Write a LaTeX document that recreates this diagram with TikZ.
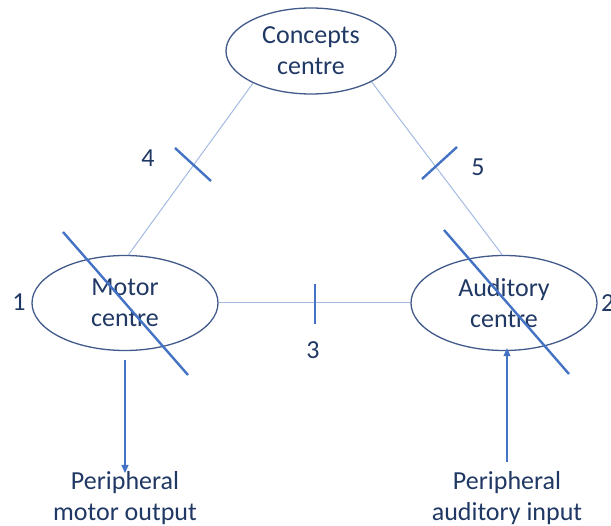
\documentclass[tikz,border=0pt]{standalone}
\usepackage{fontspec}
\setmainfont{Carlito}
\usetikzlibrary{arrows.meta,shapes.geometric}
\definecolor{edgeblue}{HTML}{41598B}
\definecolor{txtblue}{HTML}{203864}
\definecolor{linkblue}{HTML}{A4BBE3}
\definecolor{markblue}{HTML}{4472C4}
\tikzset{
  centre/.style={draw=edgeblue, line width=1.3pt, ellipse, inner sep=0pt,
    minimum width=#1, minimum height=95pt, text=txtblue, align=center,
    font=\fontsize{26pt}{31pt}\selectfont},
  lbl/.style={text=txtblue, font=\fontsize{26pt}{31pt}\selectfont, align=center, inner sep=0pt},
  link/.style={draw=linkblue, line width=1pt},
  lesion/.style={draw=markblue, line width=2.4pt},
  flow/.style={draw=markblue, line width=1.1pt, -{Triangle[length=8pt,width=7pt]}}
}
\begin{document}
\begin{tikzpicture}[x=1pt,y=-1pt]
\useasboundingbox (0,0) rectangle (611,526);
% centres
\node[centre=170pt, minimum height=86pt] (C) at (311,51) {Concepts\\centre};
\node[centre=186pt] (M) at (125,303) {Motor\\centre};
\node[centre=186pt] (A) at (504,303) {Auditory\\centre};
% connections between centres
\draw[link] (C.209) -- (M.86);
\draw[link] (C.333) -- (A.92);
\draw[link] (M) -- (A);
% lesion marks on the pathways
\coordinate (t4a) at (175,148); \coordinate (t4b) at (211,181);
\coordinate (t5a) at (457,147); \coordinate (t5b) at (422,179);
\coordinate (t3a) at (315,284); \coordinate (t3b) at (315,324);
\draw[lesion] (t4a) -- (t4b);
\draw[lesion] (t5a) -- (t5b);
\draw[lesion] (t3a) -- (t3b);
% lesions through the centres
\coordinate (x1a) at (63,232); \coordinate (x1b) at (188,375);
\coordinate (x2a) at (444,230); \coordinate (x2b) at (569,374);
\draw[lesion] (x1a) -- (x1b);
\draw[lesion] (x2a) -- (x2b);
% lesion numbers
\node[lbl] (n1) at (19,302) {1};
\node[lbl, anchor=west] (n2) at (601,303) {2};
\node[lbl] (n3) at (313,350) {3};
\node[lbl] (n4) at (148,158) {4};
\node[lbl] (n5) at (478,167) {5};
% periphery
\node[lbl, anchor=north] (PM) at (125,471) {Peripheral\\motor output};
\node[lbl, anchor=north] (PA) at (507,471) {Peripheral\\auditory input};
\coordinate (mo) at (125,360);
\coordinate (ai) at (507,462);
\draw[flow] (mo) -- ([yshift=-2pt]PM.north);
\draw[flow] (ai) -- ([yshift=3pt]A.south -| ai);
\end{tikzpicture}
\end{document}
